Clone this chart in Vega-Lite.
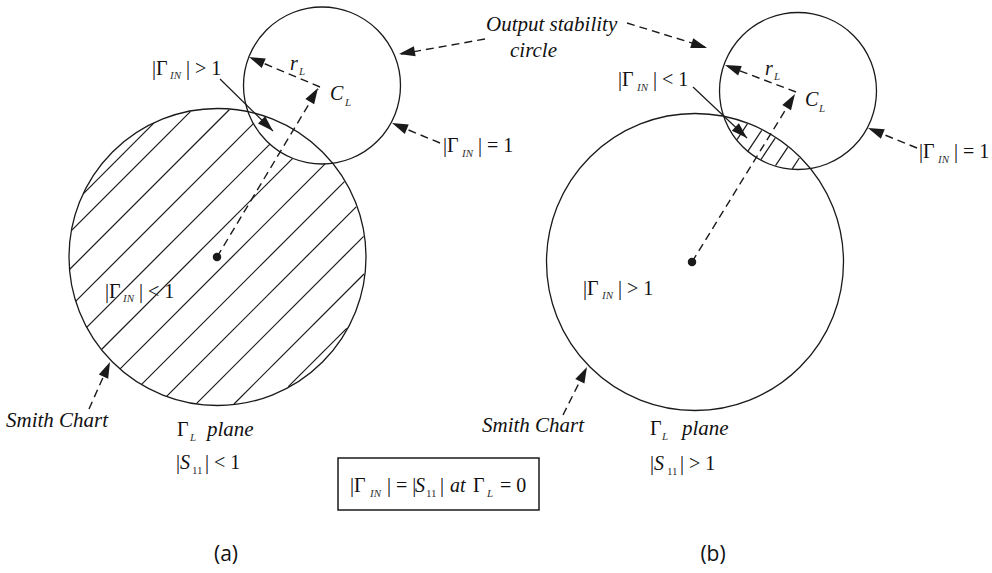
{
  "$schema": "https://vega.github.io/schema/vega-lite/v6.json",
  "width": 992,
  "height": 573,
  "autosize": {"type": "fit", "contains": "padding"},
  "padding": 0,
  "background": "white",
  "config": {"view": {"stroke": null}},
  "encoding": {
    "x": {"field": "x", "type": "quantitative", "scale": {"domain": [0, 992], "nice": false, "zero": false}, "axis": null},
    "y": {"field": "y", "type": "quantitative", "scale": {"domain": [0, 573], "nice": false, "zero": false, "reverse": true}, "axis": null}
  },
  "layer": [
    {
      "data": {"values": [
        {"panel": "a", "ring": "Smith chart", "x": 217.5, "y": 257, "r": 148.5},
        {"panel": "a", "ring": "Output stability circle", "x": 322, "y": 85.5, "r": 78.5},
        {"panel": "b", "ring": "Smith chart", "x": 695, "y": 262, "r": 148.5},
        {"panel": "b", "ring": "Output stability circle", "x": 798, "y": 91, "r": 78.5}
      ]},
      "mark": {"type": "point", "shape": "circle", "filled": false, "stroke": "#1a1a1a", "strokeWidth": 1.3, "opacity": 1},
      "encoding": {
        "size": {"field": "r", "type": "quantitative", "scale": {"type": "pow", "exponent": 2, "domain": [0, 100], "range": [0, 40000]}, "legend": null}
      }
    },
    {
      "data": {"values": [
        {"panel": "a", "x": 83.2, "y": 193.8, "x2": 153.8, "y2": 123.2},
        {"panel": "a", "x": 71.4, "y": 230.6, "x2": 190.6, "y2": 111.4},
        {"panel": "a", "x": 69.5, "y": 269.5, "x2": 229.5, "y2": 109.5},
        {"panel": "a", "x": 75.8, "y": 301.2, "x2": 253.6, "y2": 123.4},
        {"panel": "a", "x": 86.7, "y": 327.3, "x2": 269.9, "y2": 144.1},
        {"panel": "a", "x": 101.5, "y": 349.5, "x2": 292.7, "y2": 158.3},
        {"panel": "a", "x": 120.1, "y": 368.9, "x2": 325.1, "y2": 163.9},
        {"panel": "a", "x": 141.6, "y": 384.4, "x2": 344.4, "y2": 181.6},
        {"panel": "a", "x": 166.8, "y": 396.2, "x2": 356.2, "y2": 206.8},
        {"panel": "a", "x": 196.4, "y": 403.6, "x2": 363.6, "y2": 236.4},
        {"panel": "a", "x": 234.0, "y": 404.0, "x2": 364.0, "y2": 274.0},
        {"panel": "a", "x": 288.3, "y": 386.7, "x2": 346.7, "y2": 328.3},
        {"panel": "b", "x": 737.0, "y": 139.6, "x2": 747.4, "y2": 123.9},
        {"panel": "b", "x": 748.1, "y": 150.9, "x2": 761.7, "y2": 130.4},
        {"panel": "b", "x": 760.9, "y": 159.6, "x2": 775.2, "y2": 138.2},
        {"panel": "b", "x": 775.5, "y": 165.7, "x2": 787.7, "y2": 147.4},
        {"panel": "b", "x": 792.2, "y": 168.8, "x2": 799.3, "y2": 158.0},
        {"panel": "a", "x": 220, "y": 79, "x2": 273, "y2": 131},
        {"panel": "b", "x": 693, "y": 87, "x2": 747, "y2": 138}
      ]},
      "mark": {"type": "rule", "stroke": "#1a1a1a", "strokeWidth": 1.2},
      "encoding": {
        "x2": {"field": "x2"},
        "y2": {"field": "y2"}
      }
    },
    {
      "data": {"values": [
        {"panel": "a", "x": 217, "y": 257, "x2": 318, "y2": 89},
        {"panel": "a", "x": 320, "y": 87, "x2": 251, "y2": 58},
        {"panel": "a", "x": 485, "y": 39, "x2": 401, "y2": 54},
        {"panel": "a", "x": 440, "y": 143, "x2": 394, "y2": 124},
        {"panel": "a", "x": 89, "y": 409, "x2": 109, "y2": 364},
        {"panel": "b", "x": 692, "y": 262, "x2": 794, "y2": 96},
        {"panel": "b", "x": 796, "y": 92, "x2": 727, "y2": 66},
        {"panel": "b", "x": 627, "y": 23, "x2": 705, "y2": 47},
        {"panel": "b", "x": 917, "y": 148, "x2": 870, "y2": 129},
        {"panel": "b", "x": 563, "y": 415, "x2": 586, "y2": 369}
      ]},
      "mark": {"type": "rule", "stroke": "#1a1a1a", "strokeWidth": 1.4, "strokeDash": [8, 5]},
      "encoding": {
        "x2": {"field": "x2"},
        "y2": {"field": "y2"}
      }
    },
    {
      "data": {"values": [
        {"panel": "a", "x": 318, "y": 88, "heading": 31},
        {"panel": "a", "x": 249, "y": 57, "heading": 293},
        {"panel": "a", "x": 399, "y": 54, "heading": 260},
        {"panel": "a", "x": 392, "y": 123, "heading": 292.6},
        {"panel": "a", "x": 110, "y": 362, "heading": 24},
        {"panel": "a", "x": 273, "y": 131, "heading": 134.5},
        {"panel": "b", "x": 795, "y": 94, "heading": 31.5},
        {"panel": "b", "x": 725, "y": 65, "heading": 290.8},
        {"panel": "b", "x": 707, "y": 48, "heading": 107.4},
        {"panel": "b", "x": 868, "y": 128, "heading": 292.2},
        {"panel": "b", "x": 587, "y": 367, "heading": 26.6},
        {"panel": "b", "x": 747, "y": 138, "heading": 133.4}
      ]},
      "mark": {"type": "point", "shape": "M0,0L-0.32,1L0.32,1Z", "filled": true, "fill": "#1a1a1a", "stroke": null, "size": 1024, "opacity": 1},
      "encoding": {
        "angle": {"field": "heading", "type": "quantitative", "scale": null}
      }
    },
    {
      "data": {"values": [
        {"panel": "a", "x": 217, "y": 257},
        {"panel": "b", "x": 692, "y": 262}
      ]},
      "mark": {"type": "point", "shape": "circle", "filled": true, "fill": "#1a1a1a", "size": 72, "opacity": 1}
    },
    {
      "data": {"values": [
        {"x": 338, "y": 458, "x2": 539, "y2": 510}
      ]},
      "mark": {"type": "rect", "fill": null, "stroke": "#1a1a1a", "strokeWidth": 1.5},
      "encoding": {
        "x2": {"field": "x2"},
        "y2": {"field": "y2"}
      }
    },
    {
      "data": {"values": [
        {"x": 152, "y": 75, "t": "|Γ"},
        {"x": 186, "y": 75, "t": "| > 1"},
        {"x": 443, "y": 152, "t": "|Γ"},
        {"x": 478, "y": 152, "t": "| = 1"},
        {"x": 105, "y": 298, "t": "|Γ"},
        {"x": 139, "y": 298, "t": "| < 1"},
        {"x": 176, "y": 469, "t": "|"},
        {"x": 205, "y": 469, "t": "| < 1"},
        {"x": 177, "y": 436, "t": "Γ"},
        {"x": 618, "y": 86, "t": "|Γ"},
        {"x": 653, "y": 86, "t": "| < 1"},
        {"x": 919, "y": 158, "t": "|Γ"},
        {"x": 954, "y": 158, "t": "| = 1"},
        {"x": 583, "y": 295, "t": "|Γ"},
        {"x": 618, "y": 295, "t": "| > 1"},
        {"x": 650, "y": 470, "t": "|"},
        {"x": 680, "y": 470, "t": "| > 1"},
        {"x": 650, "y": 435, "t": "Γ"},
        {"x": 350, "y": 492, "t": "|Γ"},
        {"x": 387, "y": 492, "t": "| = |"},
        {"x": 440, "y": 492, "t": "|"},
        {"x": 473, "y": 492, "t": "Γ"},
        {"x": 500, "y": 492, "t": "= 0"}
      ]},
      "mark": {"type": "text", "font": "Liberation Serif", "fontSize": 20, "align": "left", "baseline": "alphabetic", "fill": "#111111"},
      "encoding": {"text": {"field": "t"}}
    },
    {
      "data": {"values": [
        {"x": 486, "y": 31, "t": "Output stability"},
        {"x": 510, "y": 57, "t": "circle"},
        {"x": 6, "y": 427, "t": "Smith Chart"},
        {"x": 207, "y": 436, "t": "plane"},
        {"x": 482, "y": 432, "t": "Smith Chart"},
        {"x": 682, "y": 435, "t": "plane"}
      ]},
      "mark": {"type": "text", "font": "Liberation Serif", "fontSize": 21, "fontStyle": "italic", "align": "left", "baseline": "alphabetic", "fill": "#111111"},
      "encoding": {"text": {"field": "t"}}
    },
    {
      "data": {"values": [
        {"x": 330, "y": 100, "t": "C"},
        {"x": 290, "y": 70, "t": "r"},
        {"x": 180, "y": 469, "t": "S"},
        {"x": 805, "y": 106, "t": "C"},
        {"x": 765, "y": 75, "t": "r"},
        {"x": 654, "y": 470, "t": "S"},
        {"x": 415, "y": 492, "t": "S"},
        {"x": 450, "y": 492, "t": "at"}
      ]},
      "mark": {"type": "text", "font": "Liberation Serif", "fontSize": 20, "fontStyle": "italic", "align": "left", "baseline": "alphabetic", "fill": "#111111"},
      "encoding": {"text": {"field": "t"}}
    },
    {
      "data": {"values": [
        {"x": 170, "y": 79, "t": "IN"},
        {"x": 462, "y": 157, "t": "IN"},
        {"x": 123, "y": 302, "t": "IN"},
        {"x": 345, "y": 106, "t": "L"},
        {"x": 299, "y": 75, "t": "L"},
        {"x": 190, "y": 441, "t": "L"},
        {"x": 637, "y": 91, "t": "IN"},
        {"x": 938, "y": 163, "t": "IN"},
        {"x": 602, "y": 299, "t": "IN"},
        {"x": 819, "y": 112, "t": "L"},
        {"x": 774, "y": 80, "t": "L"},
        {"x": 662, "y": 440, "t": "L"},
        {"x": 370, "y": 497, "t": "IN"},
        {"x": 487, "y": 497, "t": "L"}
      ]},
      "mark": {"type": "text", "font": "Liberation Serif", "fontSize": 11, "fontStyle": "italic", "align": "left", "baseline": "alphabetic", "fill": "#333333"},
      "encoding": {"text": {"field": "t"}}
    },
    {
      "data": {"values": [
        {"x": 192, "y": 474, "t": "11"},
        {"x": 667, "y": 475, "t": "11"},
        {"x": 426, "y": 497, "t": "11"}
      ]},
      "mark": {"type": "text", "font": "Liberation Serif", "fontSize": 11, "align": "left", "baseline": "alphabetic", "fill": "#333333"},
      "encoding": {"text": {"field": "t"}}
    },
    {
      "data": {"values": [
        {"x": 226, "y": 561, "t": "(a)"},
        {"x": 713, "y": 561, "t": "(b)"}
      ]},
      "mark": {"type": "text", "font": "Open Sans", "fontSize": 21, "align": "center", "baseline": "alphabetic", "fill": "#111111"},
      "encoding": {"text": {"field": "t"}}
    }
  ]
}
